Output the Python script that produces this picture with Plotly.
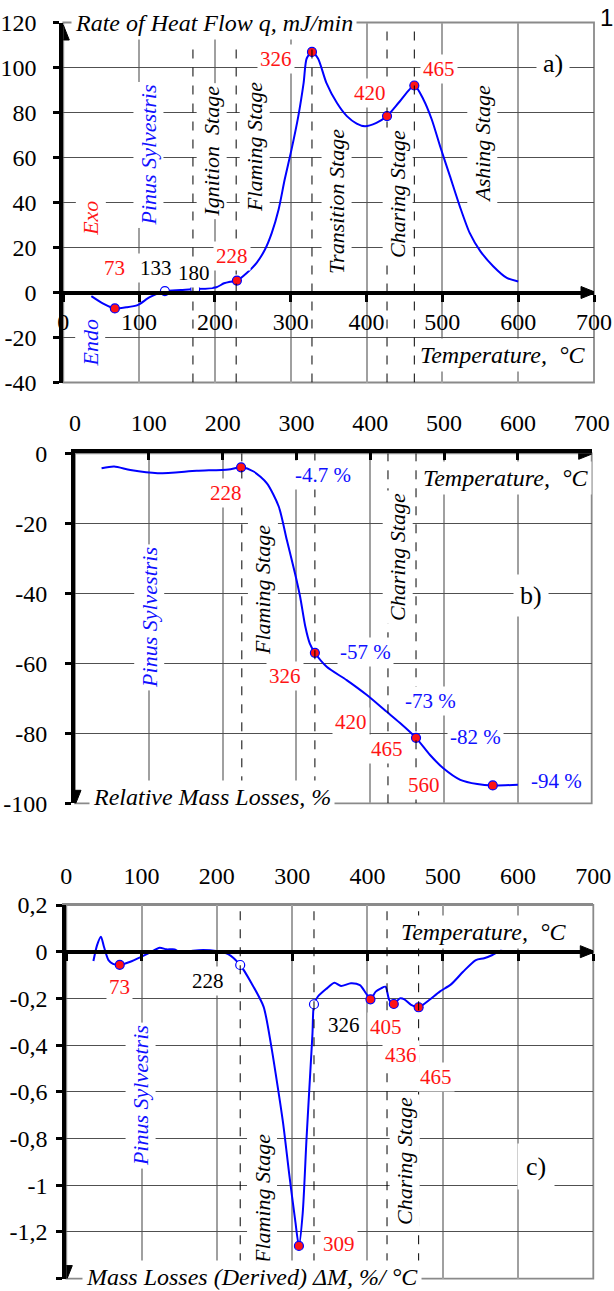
import plotly.graph_objects as go

W, H = 614, 1291

# ---------------- data ----------------
x_ticks = [0, 100, 200, 300, 400, 500, 600, 700]
x_text = ['0', '100', '200', '300', '400', '500', '600', '700']

# panel a) heat flow
temp_a = [37, 52, 68, 83, 98, 114, 134, 155, 174, 187, 202, 212, 220, 229, 242, 255, 266, 275, 284, 292,
          301, 310, 317, 321, 328, 336, 347, 361, 374, 387, 398, 413, 427, 444, 463, 475, 486, 497, 510,
          523, 536, 550, 567, 585, 600]
heat_a = [-1.6, -4.8, -7.1, -6.6, -5.6, -2.1, 0.6, 1.1, 1.6, 1.7, 2.3, 4.1, 4.8, 5.3, 8.7, 13.2, 19.1, 26.5,
          36.9, 50.2, 63.5, 78.4, 93.2, 104.0, 106.9, 104.0, 93.2, 84.2, 78.4, 75.1, 73.9, 75.4, 78.4, 85.0,
          92.0, 85.8, 76.9, 65.0, 51.7, 38.3, 26.5, 18.4, 11.7, 6.5, 4.9]
mk_a_red_t = [68, 229, 328, 427, 463]
mk_a_red_v = [-7.1, 5.3, 106.9, 78.4, 92.0]
mk_a_open_t = [134, 174]
mk_a_open_v = [0.6, 1.6]
stage_a = [171, 228, 328, 427, 463]
stage_a_top = [111, 111, 111, 120, 120]
ya_ticks = [-40, -20, 0, 20, 40, 60, 80, 100, 120]
ya_text = ['-40', '-20', '0', '20', '40', '60', '80', '100', '120']

# panel b) relative mass losses
temp_b = [36, 53, 75, 112, 165, 208, 225, 242, 260, 276, 287, 298, 305, 312, 318, 325, 341, 368, 395, 422,
          440, 462, 481, 499, 522, 545, 566, 600]
mass_b = [-4.3, -3.8, -4.8, -5.7, -5.0, -4.6, -4.0, -5.2, -8.6, -15.2, -24.8, -34.3, -41.0, -49.5, -54.3,
          -57.0, -61.0, -64.8, -69.0, -73.8, -77.0, -81.3, -86.2, -90.0, -93.3, -94.5, -94.9, -94.7]
mk_b_t = [225, 325, 462, 566]
mk_b_v = [-4.0, -57.0, -81.3, -94.9]
stage_b = [226, 325, 424, 462]
yb_ticks = [-100, -80, -60, -40, -20, 0]
yb_text = ['-100', '-80', '-60', '-40', '-20', '0']

# panel c) derived mass losses
temp_c = [36, 41, 46, 50, 56, 62, 71, 85, 100, 111, 124, 133, 144, 151, 168, 182, 199, 215, 231, 246, 262,
          272, 278, 288, 296, 304, 309, 314, 319, 324, 327, 329, 334, 345, 356, 365, 378, 390, 398, 404, 411,
          418, 424, 429, 435, 443, 449, 458, 468, 482, 496, 511, 527, 544, 555, 566, 577, 586, 599]
dm_c = [-0.040, 0.029, 0.064, 0.021, -0.036, -0.052, -0.056, -0.043, -0.021, -0.004, 0.017, 0.010, 0.010,
        -0.004, 0.004, 0.007, 0.003, -0.010, -0.057, -0.135, -0.235, -0.400, -0.520, -0.735, -0.950, -1.150,
        -1.260, -1.120, -0.806, -0.520, -0.350, -0.225, -0.193, -0.160, -0.133, -0.147, -0.135, -0.143,
        -0.178, -0.204, -0.171, -0.157, -0.150, -0.207, -0.224, -0.200, -0.204, -0.228, -0.238, -0.207,
        -0.171, -0.140, -0.086, -0.036, -0.028, -0.014, 0.004, 0.000, 0.003]
mk_c_red_t = [71, 309, 404, 435, 468]
mk_c_red_v = [-0.056, -1.260, -0.204, -0.224, -0.238]
mk_c_open_t = [231, 329]
mk_c_open_v = [-0.057, -0.225]
stage_c = [231, 329, 426, 468]
yc_ticks = [-1.4, -1.2, -1.0, -0.8, -0.6, -0.4, -0.2, 0.0, 0.2]
yc_text = ['-1,4', '-1,2', '-1', '-0,8', '-0,6', '-0,4', '-0,2', '0', '0,2']

# ---------------- style ----------------
SERIF = '"Liberation Serif", "Times New Roman", Times, serif'
BLUE = '#1010ff'
RED = '#ff1414'
LINE = '#0000ff'
VGRID = '#a0a0a0'
HGRID = '#505050'
TICK_SIZE = 24
LAB_SIZE = 24     # horizontal italic axis captions
ROT_SIZE = 22     # rotated stage labels
NUM_SIZE = 21     # point labels


def px_x(p):
    return p / W


def px_y(p):
    return 1 - p / H


dom = {
    'a': dict(x=[px_x(63.3), px_x(594)], y=[px_y(382.5), px_y(22.5)]),
    'b': dict(x=[px_x(75), px_x(591.7)], y=[px_y(803.3), px_y(453.3)]),
    'c': dict(x=[px_x(66.3), px_x(593.3)], y=[px_y(1278.6), px_y(905)]),
}

fig = go.Figure()


def curve(xs, ys, xa, ya):
    fig.add_trace(go.Scatter(x=xs, y=ys, mode='lines', xaxis=xa, yaxis=ya, hoverinfo='skip',
                             line=dict(color=LINE, width=2, shape='spline', smoothing=0.7)))


def marks(xs, ys, xa, ya, fill):
    fig.add_trace(go.Scatter(x=xs, y=ys, mode='markers', xaxis=xa, yaxis=ya, hoverinfo='skip',
                             marker=dict(size=9, color=fill, line=dict(color=LINE, width=1.2))))


curve(temp_a, heat_a, 'x', 'y')
marks(mk_a_red_t, mk_a_red_v, 'x', 'y', RED)
marks(mk_a_open_t, mk_a_open_v, 'x', 'y', 'white')
curve(temp_b, mass_b, 'x2', 'y2')
marks(mk_b_t, mk_b_v, 'x2', 'y2', RED)
curve(temp_c, dm_c, 'x3', 'y3')
marks(mk_c_red_t, mk_c_red_v, 'x3', 'y3', RED)
marks(mk_c_open_t, mk_c_open_v, 'x3', 'y3', 'white')
# helper (invisible) trace so the zero-line axis of panel c is rendered
fig.add_trace(go.Scatter(x=[0], y=[0], xaxis='x4', yaxis='y3', mode='markers',
                         marker=dict(opacity=0), hoverinfo='skip'))

tickfont = dict(family=SERIF, size=TICK_SIZE, color='black')
common_x = dict(range=[0, 700], tickvals=x_ticks, ticktext=x_text, tickfont=tickfont, zeroline=False,
                automargin=False, fixedrange=True)

layout = dict(
    width=W, height=H, margin=dict(l=0, r=0, t=0, b=0), showlegend=False,
    paper_bgcolor='white', plot_bgcolor='white', font=dict(family=SERIF),
    xaxis=dict(domain=dom['a']['x'], anchor='free', position=px_y(292.5), showline=True, linecolor='black',
               linewidth=4, ticks='outside', ticklen=7, tickwidth=3, tickcolor='black', showgrid=True,
               gridcolor=VGRID, gridwidth=1.5, ticklabelstandoff=0, **common_x),
    yaxis=dict(domain=dom['a']['y'], anchor='x', range=[-40, 120], tickvals=ya_ticks, ticktext=ya_text,
               showline=True, linecolor='black', linewidth=4, ticks='outside', ticklen=6, tickwidth=3,
               tickcolor='black', showgrid=True, gridcolor=HGRID, gridwidth=1.2, zeroline=False,
               tickfont=tickfont, ticklabelstandoff=12, automargin=False),
    xaxis2=dict(domain=dom['b']['x'], anchor='y2', side='top', showline=True, linecolor='black', linewidth=4,
                ticks='inside', ticklen=7, tickwidth=3, tickcolor='black', showgrid=True, gridcolor=VGRID,
                gridwidth=1.5, ticklabelstandoff=9, **common_x),
    yaxis2=dict(domain=dom['b']['y'], anchor='x2', range=[-100, 0], tickvals=yb_ticks, ticktext=yb_text,
                showline=True, linecolor='black', linewidth=4, ticks='outside', ticklen=6, tickwidth=3,
                tickcolor='black', showgrid=True, gridcolor=HGRID, gridwidth=1.2, zeroline=False,
                tickfont=tickfont, ticklabelstandoff=13, automargin=False),
    xaxis3=dict(domain=dom['c']['x'], anchor='y3', side='top', showline=True, linecolor='#8a8a8a',
                linewidth=1.5, ticks='', showgrid=True, gridcolor=VGRID, gridwidth=1.5,
                ticklabelstandoff=10, **common_x),
    xaxis4=dict(domain=dom['c']['x'], overlaying='x3', anchor='free', position=px_y(951.7), range=[0, 700],
                tickvals=x_ticks, showticklabels=False, showline=True, linecolor='black', linewidth=4,
                ticks='outside', ticklen=7, tickwidth=3, tickcolor='black', showgrid=False, zeroline=False,
                fixedrange=True),
    yaxis3=dict(domain=dom['c']['y'], anchor='x3', range=[-1.4, 0.2], tickvals=yc_ticks, ticktext=yc_text,
                showline=True, linecolor='black', linewidth=4, ticks='outside', ticklen=6, tickwidth=3,
                tickcolor='black', showgrid=True, gridcolor=HGRID, gridwidth=1.2, zeroline=False,
                tickfont=tickfont, ticklabelstandoff=4, automargin=False),
)
fig.update_layout(**layout)

shapes = []
# frames (right / bottom borders)
for xr, yr in [('x', 'y'), ('x2', 'y2'), ('x3', 'y3')]:
    shapes.append(dict(type='rect', xref=xr + ' domain', yref=yr + ' domain', x0=0, x1=1, y0=0, y1=1,
                       line=dict(color='#8a8a8a', width=1.8), layer='below'))
# stage boundaries (dashed)
for s, top in zip(stage_a, stage_a_top):
    shapes.append(dict(type='line', xref='x', yref='y', x0=s, x1=s, y0=-40, y1=top,
                       line=dict(color='black', width=1, dash='dash')))
for s in stage_b:
    shapes.append(dict(type='line', xref='x2', yref='y2', x0=s, x1=s, y0=-100, y1=0,
                       line=dict(color='black', width=1, dash='dash')))
for s in stage_c:
    shapes.append(dict(type='line', xref='x3', yref='y3', x0=s, x1=s, y0=-1.33, y1=0.2,
                       line=dict(color='black', width=1, dash='dash')))


def head(xr, yr, x, y, d):
    paths = {'right': 'M 2 0 L -13 6 L -13 -6 Z',
             'up': 'M 0 2 L -6 -13 L 6 -13 Z',
             'down': 'M 0 -2 L -6 13 L 6 13 Z'}
    return dict(type='path', xref=xr, yref=yr, xsizemode='pixel', ysizemode='pixel', xanchor=x, yanchor=y,
                path=paths[d], fillcolor='black', line=dict(color='black', width=1), layer='above')


shapes += [head('x', 'y', 700, 0, 'right'), head('x', 'y', 0, 118, 'up'),
           head('x2', 'y2', 700, 0, 'right'), head('x2', 'y2', 0, -100, 'down'),
           head('x3', 'y3', 700, 0, 'right'), head('x3', 'y3', 0, -1.4, 'down')]
fig.update_layout(shapes=shapes)

ann = []


def T(text, x, y, xr, yr, color='black', size=NUM_SIZE, italic=False, angle=0, xanchor='center', bg='white',
      family=SERIF, pad=2):
    if italic:
        text = '<i>' + text + '</i>'
    ann.append(dict(text=text, x=x, y=y, xref=xr, yref=yr, showarrow=False, textangle=angle,
                    xanchor=xanchor, yanchor='middle', bgcolor=bg, borderpad=pad,
                    font=dict(family=family, size=size, color=color)))


NB = '\u00a0'
# panel a
T('73', 67, 10.9, 'x', 'y', RED)
T('133', 122, 10.8, 'x', 'y')
T('180', 172, 8.8, 'x', 'y')
T('228', 223, 16.2, 'x', 'y', RED)
T('326', 281, 103.6, 'x', 'y', RED)
T('420', 405, 88.8, 'x', 'y', RED)
T('465', 495, 99.2, 'x', 'y', RED)
T('a)', 646, 101.9, 'x', 'y', size=26, pad=6)
T('Exo', 36, 33, 'x', 'y', RED, ROT_SIZE, True, -90)
T('Endo', 36, -22.4, 'x', 'y', BLUE, ROT_SIZE, True, -90)
T('Pinus Sylvestris', 112, 61, 'x', 'y', BLUE, ROT_SIZE, True, -90)
T('Ignition' + NB + NB + 'Stage', 196, 63, 'x', 'y', 'black', ROT_SIZE, True, -90)
T('Flaming Stage', 253, 64.7, 'x', 'y', 'black', ROT_SIZE, True, -90)
T('Transition Stage', 361, 40.7, 'x', 'y', 'black', ROT_SIZE, True, -90)
T('Charing Stage', 441.6, 43.8, 'x', 'y', 'black', ROT_SIZE, True, -90)
T('Ashing Stage', 552, 66, 'x', 'y', 'black', ROT_SIZE, True, -90)
T('Rate of Heat Flow q, mJ/min', 10, 120, 'x', 'y', size=LAB_SIZE, italic=True, xanchor='left', pad=3)
T('Temperature,' + NB + NB + '°C', 579, -27.8, 'x', 'y', size=LAB_SIZE, italic=True, pad=3)
T('1', px_x(606), px_y(18), 'paper', 'paper', size=24, family='"Liberation Sans", Arial, sans-serif', bg=None)

# panel b
T('228', 204.6, -11.3, 'x2', 'y2', RED)
T('-4.7 %', 336, -6.2, 'x2', 'y2', BLUE)
T('326', 284.5, -63.6, 'x2', 'y2', RED)
T('-57 %', 394, -56.8, 'x2', 'y2', BLUE)
T('-73 %', 482, -70.8, 'x2', 'y2', BLUE)
T('420', 374, -76.8, 'x2', 'y2', RED)
T('465', 423, -84.5, 'x2', 'y2', RED)
T('-82 %', 542, -81.1, 'x2', 'y2', BLUE)
T('560', 473, -94.8, 'x2', 'y2', RED)
T('-94 %', 652, -93.6, 'x2', 'y2', BLUE)
T('b)', 618, -40.5, 'x2', 'y2', size=26, pad=6)
T('Pinus Sylvestris', 100, -46.8, 'x2', 'y2', BLUE, ROT_SIZE, True, -90)
T('Flaming Stage', 255, -39, 'x2', 'y2', 'black', ROT_SIZE, True, -90)
T('Charing Stage', 437.7, -29.6, 'x2', 'y2', 'black', ROT_SIZE, True, -90)
T('Temperature,' + NB + NB + '°C', 583, -7, 'x2', 'y2', size=LAB_SIZE, italic=True, pad=3)
T('Relative Mass Losses, %', 185, -98.1, 'x2', 'y2', size=LAB_SIZE, italic=True, pad=3)

# panel c
T('73', 71, -0.151, 'x3', 'y3', RED)
T('228', 188, -0.125, 'x3', 'y3')
T('326', 369, -0.314, 'x3', 'y3')
T('405', 424, -0.322, 'x3', 'y3', RED)
T('436', 444, -0.442, 'x3', 'y3', RED)
T('465', 491.6, -0.537, 'x3', 'y3', RED)
T('309', 361.7, -1.252, 'x3', 'y3', RED)
T('c)', 624, -0.922, 'x3', 'y3', size=26, pad=8)
T('Pinus Sylvestris', 98, -0.618, 'x3', 'y3', BLUE, ROT_SIZE, True, -90)
T('Flaming Stage', 259.6, -1.06, 'x3', 'y3', 'black', ROT_SIZE, True, -90)
T('Charing Stage', 450, -0.896, 'x3', 'y3', 'black', ROT_SIZE, True, -90)
T('Temperature,' + NB + NB + '°C', 554.6, 0.084, 'x3', 'y3', size=LAB_SIZE, italic=True, pad=3)
T('Mass Losses (Derived) ΔM, %/ °C', 246, -1.393, 'x3', 'y3', size=LAB_SIZE, italic=True, pad=3)

fig.update_layout(annotations=ann)
fig.write_html('out.html')
